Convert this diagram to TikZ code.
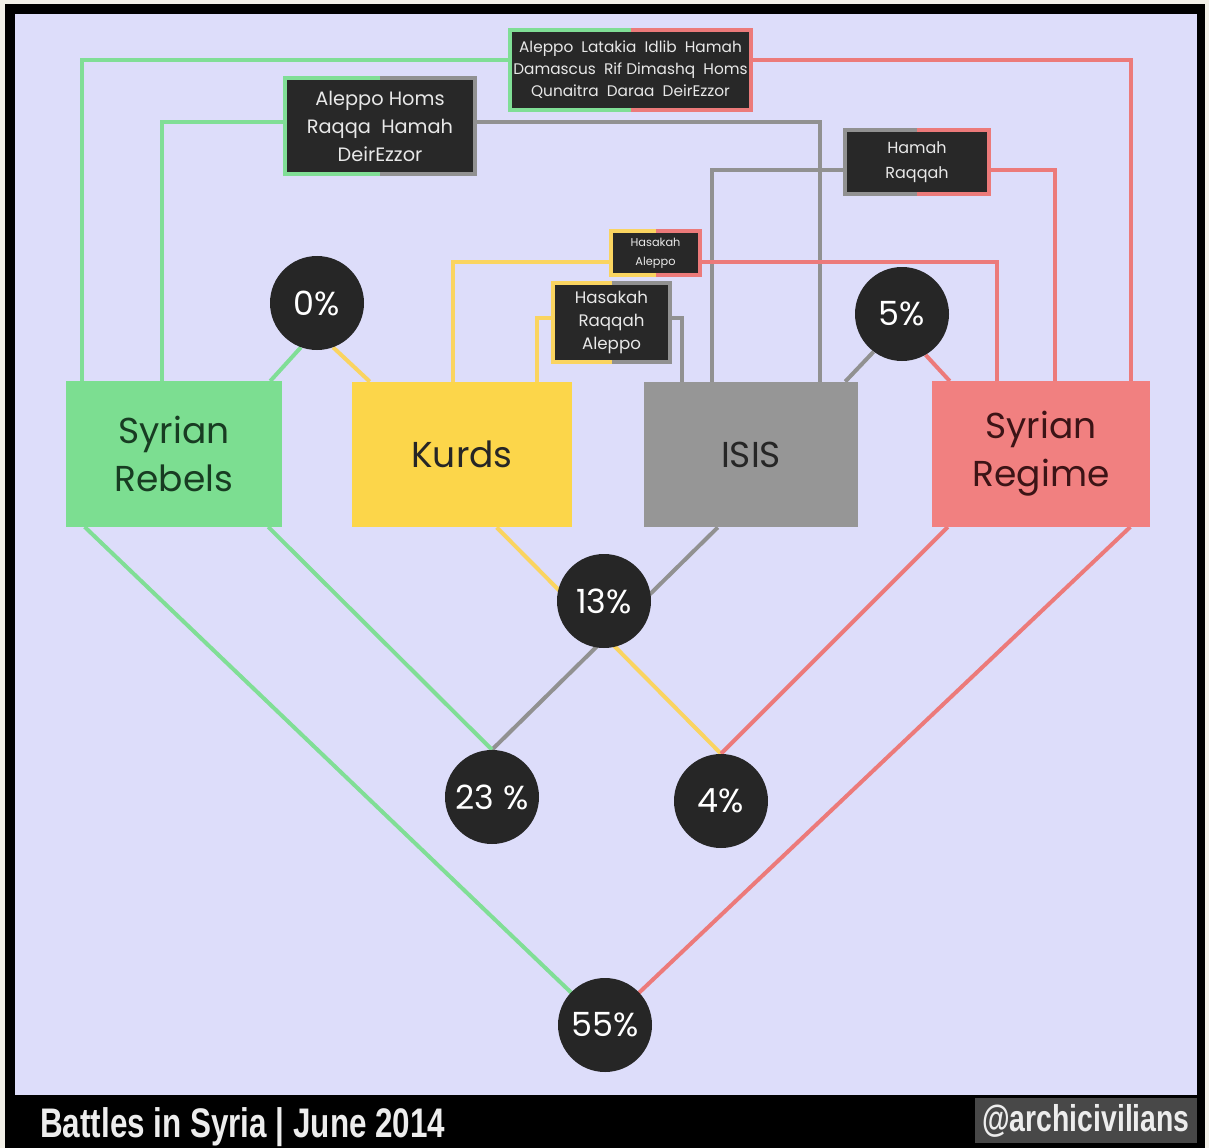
\documentclass[tikz,border=0pt]{standalone}
\usepackage{fontspec}
\setmainfont{Poppins}
\newfontfamily\titlefont{Liberation Sans}[FakeStretch=0.76]
\usetikzlibrary{calc}
\definecolor{lav}{RGB}{221,221,250}
\definecolor{offwhite}{RGB}{242,240,232}
\definecolor{pgreen}{RGB}{124,222,145}
\definecolor{pyellow}{RGB}{252,214,74}
\definecolor{pgray}{RGB}{150,150,150}
\definecolor{pred}{RGB}{241,128,128}
\definecolor{lgreen}{RGB}{128,222,150}
\definecolor{lyellow}{RGB}{250,212,96}
\definecolor{lgray}{RGB}{145,145,145}
\definecolor{lred}{RGB}{236,122,122}
\definecolor{cdark}{RGB}{38,38,38}
\definecolor{boxdark}{RGB}{40,40,40}
\definecolor{boxtext}{RGB}{232,232,232}
\definecolor{greentext}{RGB}{24,60,34}
\definecolor{redtext}{RGB}{60,20,22}
\definecolor{handlegray}{RGB}{72,72,72}
\pgfdeclarelayer{bgl}
\pgfdeclarelayer{lin}
\pgfdeclarelayer{bord}
\pgfsetlayers{bgl,lin,bord,main}
\newcommand\halfborder[3]{%
  \fill[#2] ($(#1.north west)+(-4,-4)$) rectangle ($(#1.south)+(0,4)$);
  \fill[#3] ($(#1.north)+(0,-4)$) rectangle ($(#1.south east)+(4,4)$);}
\begin{document}
\begin{tikzpicture}[x=0.75pt,y=-0.75pt,
  party/.style={rectangle, inner sep=0pt, align=center, minimum height=109pt,
    font=\fontsize{27}{36}\selectfont},
  pct/.style={circle, fill=cdark, minimum size=70.5pt, inner sep=0pt, text=white,
    font=\fontsize{25}{30}\selectfont},
  cities/.style={rectangle, fill=boxdark, inner sep=0pt, align=center, text=boxtext},
  conn/.style={line width=3pt, line join=miter},
  gl/.style={conn, draw=lgreen},
  yl/.style={conn, draw=lyellow},
  grl/.style={conn, draw=lgray},
  rl/.style={conn, draw=lred}]
\useasboundingbox (0,0) rectangle (1209,1148);
\begin{pgfonlayer}{bgl}
  \fill[offwhite] (0,0) rectangle (1209,1148);
  \fill[black] (5,4) rectangle (1205,1148);
  \fill[lav] (15,14) rectangle (1197,1095);
\end{pgfonlayer}

% parties
\node[party, fill=pgreen, text=greentext, minimum width=162pt] (rebels) at (174,454) {Syrian\\Rebels};
\node[party, fill=pyellow, text=black!85, minimum width=165pt] (kurds) at (462,454.5) {Kurds};
\node[party, fill=pgray, text=black!85, minimum width=160.5pt] (isis) at (751,454.5) {ISIS};
\node[party, fill=pred, text=redtext, minimum width=163.5pt] (regime) at (1041,454) {Syrian\\Regime};

% percentages
\node[pct] (c0) at (317,303) {0\%};
\node[pct] (c5) at (902,314) {5\%};
\node[pct] (c13) at (604,601) {13\%};
\node[pct] (c23) at (492,797) {23 \%};
\node[pct] (c4) at (721,801) {4\%};
\node[pct] (c55) at (605,1025) {55\%};

% city boxes
\node[cities, minimum width=177.75pt, minimum height=57pt, font=\fontsize{11.5}{16.5}\selectfont] (b1) at (630.5,70)
  {Aleppo~~Latakia~~Idlib~~Hamah\\Damascus~~Rif Dimashq~~Homs\\Qunaitra~~Daraa~~DeirEzzor};
\node[cities, minimum width=139.5pt, minimum height=69pt, font=\fontsize{14.5}{21}\selectfont] (b2) at (380,126)
  {Aleppo~Homs\\Raqqa~~Hamah\\DeirEzzor};
\node[cities, minimum width=105pt, minimum height=45pt, font=\fontsize{12}{18.75}\selectfont] (b3) at (917,162)
  {Hamah\\Raqqah};
\node[cities, minimum width=63.75pt, minimum height=30pt, font=\fontsize{8.5}{14}\selectfont] (b4) at (655.5,253)
  {Hasakah\\Aleppo};
\node[cities, minimum width=84.75pt, minimum height=56.25pt, font=\fontsize{12.5}{17.25}\selectfont] (b5) at (611.5,322.5)
  {Hasakah\\Raqqah\\Aleppo};

\begin{pgfonlayer}{bord}
  \halfborder{b1}{lgreen}{lred}
  \halfborder{b2}{lgreen}{lgray}
  \halfborder{b3}{lgray}{lred}
  \halfborder{b4}{lyellow}{lred}
  \halfborder{b5}{lyellow}{lgray}
\end{pgfonlayer}

\begin{pgfonlayer}{lin}
  % top routed connectors
  \draw[gl] ($(b1.west)+(0,-10)$) -| ($(rebels.north west)+(16,0)$);
  \draw[rl] ($(b1.east)+(0,-10)$) -| ($(regime.north east)+(-19,0)$);
  \draw[gl] ($(b2.west)+(0,-4)$) -| ($(rebels.north west)+(96,0)$);
  \draw[grl] ($(b2.east)+(0,-4)$) -| ($(isis.north west)+(176,0)$);
  \draw[grl] ($(b3.west)+(0,8)$) -| ($(isis.north west)+(68,0)$);
  \draw[rl] ($(b3.east)+(0,8)$) -| ($(regime.north west)+(123,0)$);
  \draw[grl] ($(b5.east)+(0,-5)$) -| ($(isis.north west)+(38,0)$);
  \draw[yl] ($(b5.west)+(0,-5)$) -| ($(kurds.north west)+(185,0)$);
  \draw[yl] ($(b4.west)+(0,9)$) -| ($(kurds.north west)+(101,0)$);
  \draw[rl] ($(b4.east)+(0,9)$) -| ($(regime.north west)+(65,0)$);
  % top circles
  \draw[gl] ($(rebels.north east)+(-12,0)$) -- (c0.250);
  \draw[yl] (c0.290) -- ($(kurds.north west)+(18,0)$);
  \draw[grl] ($(isis.north east)+(-13,0)$) -- (c5.233);
  \draw[rl] (c5.300) -- ($(regime.north west)+(18,0)$);
  % lower diagonals
  \draw[yl] ($(kurds.south west)+(145,0)$) -- (c4.north);
  \draw[grl] ($(isis.south west)+(74,0)$) -- (c23.north);
  \draw[gl] ($(rebels.south east)+(-14,0)$) -- (c23.north);
  \draw[rl] ($(regime.south west)+(16,0)$) -- (c4.north);
  \draw[gl] ($(rebels.south west)+(19,0)$) -- (c55.center);
  \draw[rl] ($(regime.south east)+(-20,0)$) -- (c55.center);
\end{pgfonlayer}

% footer
\node[anchor=base west, inner sep=0pt, text=white!93!black, font=\titlefont\bfseries\fontsize{31}{36}\selectfont] (title) at (40,1137)
  {Battles in Syria | June 2014};
\node[fill=handlegray, text=white!93!black, inner sep=0pt, minimum width=166.5pt, minimum height=33.75pt,
  font=\titlefont\bfseries\fontsize{28}{34}\selectfont] (handle) at (1086,1120.5) {@archicivilians};
\end{tikzpicture}
\end{document}
